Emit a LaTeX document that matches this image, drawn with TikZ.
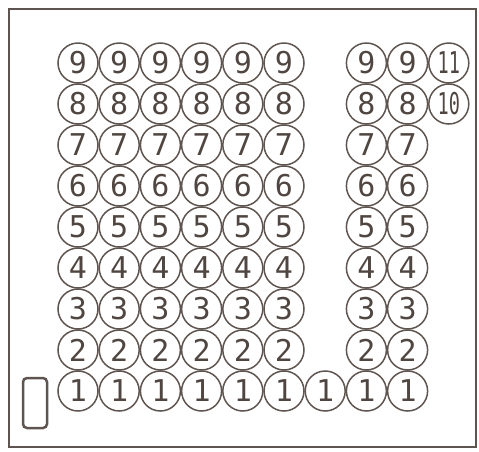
\documentclass[tikz,border=0pt]{standalone}
\usepackage{fontspec}
\setmonofont{DejaVu Sans Mono}
\usepackage{tikz}
\definecolor{inkgray}{RGB}{95,85,80}
\definecolor{inkdark}{RGB}{80,70,65}
\tikzset{
  ball/.style={circle, draw=inkgray, line width=1.5pt, minimum size=40pt,
    inner sep=0pt, text=inkdark, font=\ttfamily\fontsize{30}{30}\selectfont},
}

\begin{document}
\begin{tikzpicture}[x=1pt,y=-1pt]
  \useasboundingbox (0,0) rectangle (479,451);
  % Frame
  \draw[inkgray, line width=1.5pt] (9,9) rectangle (476,447);
  % Left block: columns 1 to 6
  \foreach \c in {1,...,6}
    \foreach \r in {1,...,9}
      \node[ball] (b\c-\r) at ({78+41.2*(\c-1)},{391-41*(\r-1)}) {\r};
  % Column 7: bottom row only
  \node[ball] (b7-1) at ({78+41.2*6},391) {1};
  % Right block: columns 8 and 9
  \foreach \c in {8,9}
    \foreach \r in {1,...,9}
      \node[ball] (b\c-\r) at ({78+41.2*(\c-1)},{391-41*(\r-1)}) {\r};
  % Column 10: two top rows
  \node[ball] (b10-9) at ({78+41.2*9},{391-41*8}) {\scalebox{0.62}[1]{11}};
  \node[ball] (b10-8) at ({78+41.2*9},{391-41*7}) {\scalebox{0.62}[1]{10}};
  % Empty slot left of row 1
  \draw[inkgray, line width=2.5pt, rounded corners=4pt] (23,378) rectangle (47,428);
\end{tikzpicture}
\end{document}
